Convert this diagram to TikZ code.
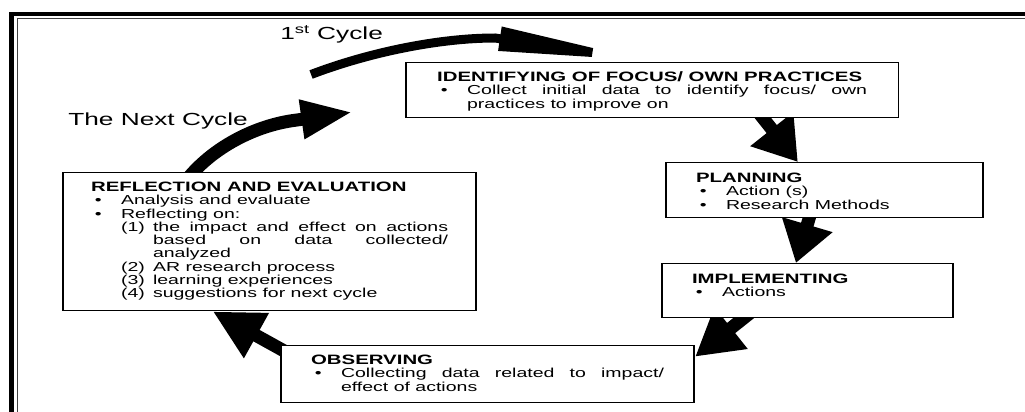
\documentclass[tikz,border=0pt]{standalone}
\usepackage{fontspec}
\setmainfont{Liberation Sans}
\usetikzlibrary{arrows.meta,calc,backgrounds}

\tolerance=10000\relax
\hbadness=10000\relax
\newcommand{\stagetitle}[1]{{\fontsize{13.6}{13.25}\selectfont\bfseries #1}}
\newcommand{\cycbullet}[1]{\par\hangindent=20pt\relax\hangafter=1\relax\noindent\makebox[20pt][l]{\hspace{2.5pt}\textbullet}#1}
\newcommand{\cycnum}[2]{\par\hangindent=41.3pt\relax\hangafter=1\relax\noindent\hspace*{20pt}\makebox[21.3pt][l]{#1}#2}

\begin{document}
\begin{tikzpicture}[x=0.66667pt, y=-1pt, xscale=1.5, transform shape,
    stage/.style={draw, line width=1.4pt, fill=white, anchor=north west, inner xsep=20pt, inner ysep=0pt,
      align=justify, font=\fontsize{13}{13.25}\selectfont},
    flow/.style 2 args={line width=13pt, -{Triangle[length=#1,width=#2]}},
    cyclelabel/.style={anchor=base west, inner sep=0pt, font=\fontsize{17.5}{19}\selectfont}]
    \useasboundingbox (0,0) rectangle (1025,412);
    % frame
    \draw[line width=4.5pt] (11.5,412) -- (11.5,14) -- (1025,14);
    \draw[line width=1.3pt, black!75] (17.5,412) -- (17.5,18.5) -- (1025,18.5);
    % stages
    \node[stage, text width=286.7pt, inner xsep=20.7pt, text height=19pt, text depth=36pt] (ident) at (405,62)
        {\stagetitle{IDENTIFYING OF FOCUS/ OWN PRACTICES}\cycbullet{Collect initial data to identify focus/ own\linebreak practices to improve on}\par};
    \node[stage, text width=171.3pt, text height=20pt, text depth=35pt] (plan) at (665,162)
        {\stagetitle{PLANNING}\cycbullet{Action (s)}\cycbullet{Research Methods}\par};
    \node[stage, text width=154pt, text height=20pt, text depth=34pt] (impl) at (661,263)
        {\stagetitle{IMPLEMENTING}\cycbullet{Actions}\par};
    \node[stage, text width=235.3pt, text height=19pt, text depth=38pt] (obs) at (280,345)
        {\stagetitle{OBSERVING}\cycbullet{Collecting data related to impact/\linebreak effect of actions}\par};
    \node[stage, text width=238pt, inner xsep=18.7pt, text height=19pt, text depth=119pt] (refl) at (62,172)
        {\stagetitle{REFLECTION AND EVALUATION}\cycbullet{Analysis and evaluate}\cycbullet{Reflecting on:}%
         \cycnum{(1)}{the impact and effect on actions\linebreak based on data collected/\linebreak analyzed}%
         \cycnum{(2)}{AR research process}\cycnum{(3)}{learning experiences}\cycnum{(4)}{suggestions for next cycle}\par};
    % labels
    \node[cyclelabel] (first) at (280,40) {1\textsuperscript{st} Cycle};
    \node[cyclelabel] (next) at (68,126) {The Next Cycle};
    % arrows
    \coordinate (tail1) at (311,74.5);
    \coordinate (tip2) at (353,112);
    \begin{scope}[on background layer]
        \draw[flow={158pt}{22pt}, line width=9pt] (tail1) .. controls (370,52) and (440,38) .. (495,38)
            -- ($(ident.north west)!0.508!(ident.north east)$);
        \draw[flow={52pt}{36pt}] ($(refl.north west)!0.3!(refl.north east)+(0,8)$) .. controls (212,148) and (255,125) .. (297,120) -- (tip2);
        \draw[flow={42pt}{52pt}] ($(ident.south west)!0.715!(ident.south east)+(0,-6)$) -- ($(plan.north west)!0.416!(plan.north east)$);
        \draw[flow={40pt}{50pt}] ($(plan.south west)!0.457!(plan.south east)+(0,-6)$) -- ($(impl.north west)!0.46!(impl.north east)$);
        \draw[flow={46pt}{50pt}] ($(impl.south west)!0.306!(impl.south east)+(0,-6)$) -- ($(obs.north east)!0.2!(obs.south east)$);
        \draw[flow={50pt}{48pt}] ($(obs.north west)!0.12!(obs.south west)+(6,0)$) -- ($(refl.south west)!0.363!(refl.south east)$);
    \end{scope}
\end{tikzpicture}
\end{document}
